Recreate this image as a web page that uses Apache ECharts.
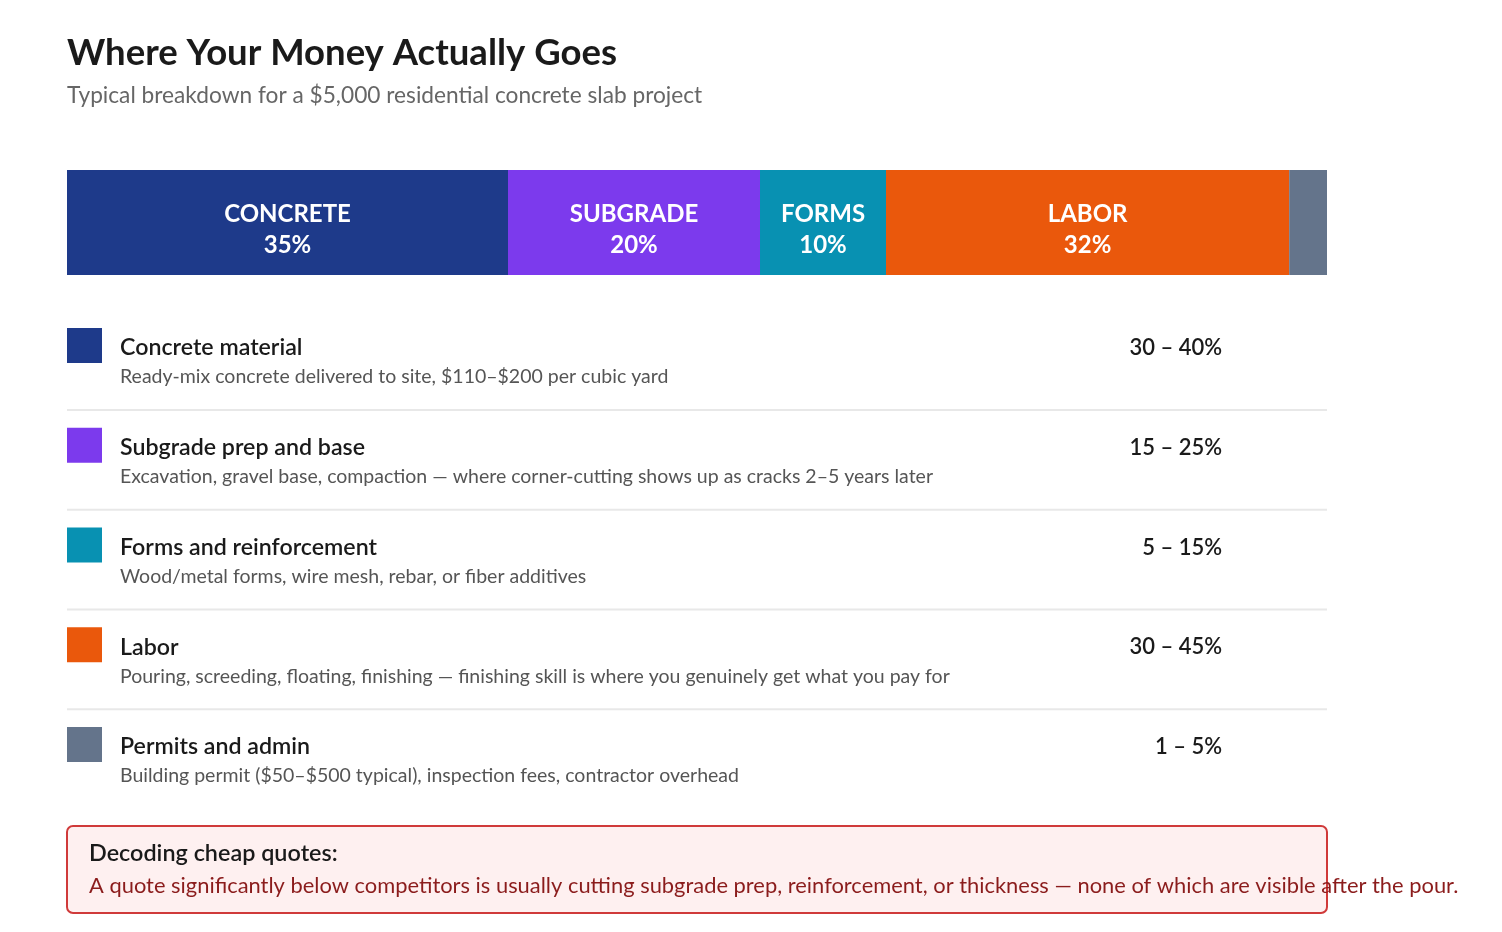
<!DOCTYPE html>
<html><head><meta charset="utf-8">
<script src="https://cdn.jsdelivr.net/npm/echarts@6/dist/echarts.min.js"></script>
<style>html,body{margin:0;padding:0;background:#fff}#c{width:1502px;height:932px}</style>
</head><body><div id="c"></div>
<script>
const titleText = 'Where Your Money Actually Goes';
const subtitleText = 'Typical breakdown for a $5,000 residential concrete slab project';
const categories = ['CONCRETE', 'SUBGRADE', 'FORMS', 'LABOR', 'PERMITS'];
const shares = [35, 20, 10, 32, 3];
const showBarLabel = [true, true, true, true, false];
const colors = ['#1e3a8a', '#7c3aed', '#0891b2', '#ea580c', '#64748b'];
const rowTitles = ['Concrete material', 'Subgrade prep and base', 'Forms and reinforcement', 'Labor', 'Permits and admin'];
const rowDescs = [
  'Ready-mix concrete delivered to site, $110\u2013$200 per cubic yard',
  'Excavation, gravel base, compaction \u2014 where corner-cutting shows up as cracks 2\u20135 years later',
  'Wood/metal forms, wire mesh, rebar, or fiber additives',
  'Pouring, screeding, floating, finishing \u2014 finishing skill is where you genuinely get what you pay for',
  'Building permit ($50\u2013$500 typical), inspection fees, contractor overhead'
];
const rowRanges = ['30 \u2013 40%', '15 \u2013 25%', '5 \u2013 15%', '30 \u2013 45%', '1 \u2013 5%'];
const calloutTitle = 'Decoding cheap quotes:';
const calloutText = 'A quote significantly below competitors is usually cutting subgrade prep, reinforcement, or thickness \u2014 none of which are visible after the pour.';

const FONT = 'Lato, "Open Sans", sans-serif';
const chart = echarts.init(document.getElementById('c'), null, {renderer: 'canvas'});

const series = categories.map((name, i) => ({
  name: name,
  type: 'bar',
  stack: 'total',
  barWidth: 105,
  data: [shares[i]],
  itemStyle: {color: colors[i]},
  silent: true,
  label: {
    show: showBarLabel[i],
    position: 'inside',
    offset: [0, 7],
    formatter: () => '{n|' + name + '}\n{p|' + shares[i] + '%}',
    rich: {
      n: {fontFamily: FONT, fontSize: 24, fontWeight: 'bold', color: '#fff', lineHeight: 31},
      p: {fontFamily: FONT, fontSize: 24, fontWeight: 'bold', color: '#fff', lineHeight: 31}
    }
  }
}));

const graphics = [];
graphics.push({type: 'text', x: 67, y: 53, style: {text: titleText, font: 'bold 36.5px ' + FONT, fill: '#1a1a1a', textVerticalAlign: 'middle'}});
graphics.push({type: 'text', x: 67, y: 96, style: {text: subtitleText, font: '22.7px ' + FONT, fill: '#666666', textVerticalAlign: 'middle'}});

const rowStep = 99.75;
rowTitles.forEach((t, i) => {
  const y0 = 328 + i * rowStep;
  graphics.push({type: 'rect', shape: {x: 67, y: y0, width: 35, height: 35}, style: {fill: colors[i]}});
  graphics.push({type: 'text', x: 120, y: y0 + 20, style: {text: t, font: '600 23.2px ' + FONT, fill: '#1a1a1a', textVerticalAlign: 'middle'}});
  graphics.push({type: 'text', x: 120, y: y0 + 49, style: {text: rowDescs[i], font: '19.5px ' + FONT, fill: '#555555', textVerticalAlign: 'middle'}});
  graphics.push({type: 'text', x: 1222, y: y0 + 20, style: {text: rowRanges[i], font: '600 22px ' + FONT, fill: '#1a1a1a', textAlign: 'right', textVerticalAlign: 'middle'}});
  if (i < rowTitles.length - 1) {
    graphics.push({type: 'rect', shape: {x: 67, y: y0 + 81, width: 1260, height: 2}, style: {fill: '#e8e8e8'}});
  }
});

graphics.push({type: 'rect', shape: {x: 67, y: 826, width: 1260, height: 87, r: 6}, style: {fill: '#fef0f0', stroke: '#d03a3a', lineWidth: 2}});
graphics.push({type: 'text', x: 89, y: 853, style: {text: calloutTitle, font: '600 23.4px ' + FONT, fill: '#1a1a1a', textVerticalAlign: 'middle'}});
graphics.push({type: 'text', x: 89, y: 886, style: {text: calloutText, font: '21.9px ' + FONT, fill: '#8b1c1c', textVerticalAlign: 'middle'}});

chart.setOption({
  animation: false,
  backgroundColor: '#ffffff',
  grid: {left: 67, top: 170, width: 1260, height: 105, containLabel: false},
  xAxis: {type: 'value', min: 0, max: 100, show: false},
  yAxis: {type: 'category', data: ['Cost'], show: false},
  series: series,
  graphic: graphics
});
</script></body></html>
